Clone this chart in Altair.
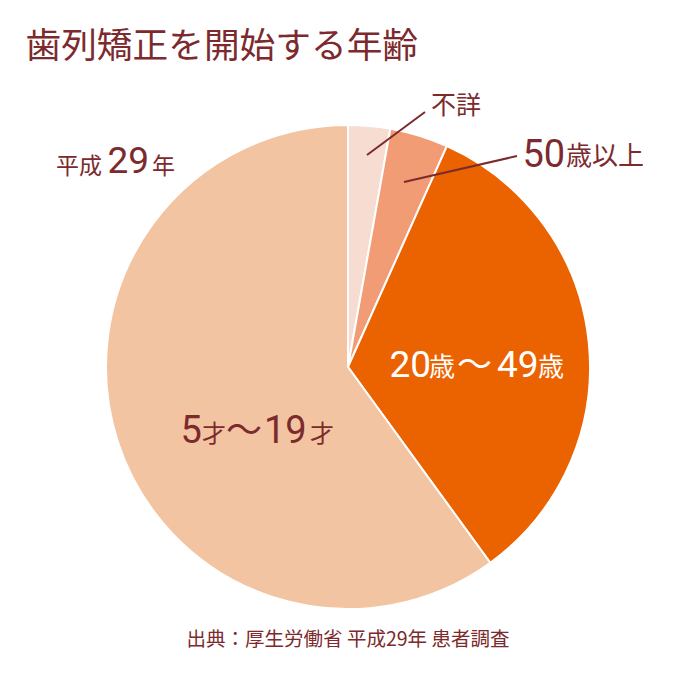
import altair as alt
import pandas as pd

# ---- data ----
categories = ["不詳", "50歳以上", "20歳〜49歳", "5才〜19才"]
values = [2.8, 3.9, 33.3, 60.0]
colors = ["#F7DCD1", "#F29C76", "#EB6200", "#F2C4A2"]

title_text = "歯列矯正を開始する年齢"
year_label = ["平成", "29", "年"]
source_text = "出典：厚生労働省 平成29年 患者調査"

TXT = "#7C2A2D"
FONT = "Noto Sans CJK JP"
DIG = "Roboto"
W, H = 684, 675
CX, CY, R = 340, 359, 242

pie_df = pd.DataFrame({"cat": categories, "value": values, "idx": list(range(len(categories)))})

pie = alt.Chart(pie_df).mark_arc(outerRadius=R, stroke="white", strokeWidth=2).encode(
    theta=alt.Theta("value:Q", stack=True),
    color=alt.Color("cat:N", scale=alt.Scale(domain=categories, range=colors), legend=None),
    order=alt.Order("idx:Q"),
    x=alt.value(CX),
    y=alt.value(CY),
)

# label pieces: (text, x, baseline y, font size, colour, font)
segs = [
    (title_text, 17.5, 50, 35.7, TXT, FONT),
    ("不詳", 423, 106, 25, TXT, FONT),
    ("50", 514.5, 159, 38, TXT, DIG),
    ("歳以上", 558, 157, 26, TXT, FONT),
    (year_label[0], 48, 165.5, 23, TXT, FONT),
    (year_label[1], 99.5, 165, 37, TXT, DIG),
    (year_label[2], 144, 165.5, 23, TXT, FONT),
    ("5", 172.5, 435, 38, TXT, DIG),
    ("才", 194, 433.5, 24, TXT, FONT),
    ("〜", 218, 435, 36, TXT, FONT),
    ("19", 256, 435, 38, TXT, DIG),
    ("才", 302, 433.5, 24, TXT, FONT),
    ("20", 381.5, 369, 37, "white", DIG),
    ("歳", 421, 367.5, 26, "white", FONT),
    ("〜", 449, 369, 35, "white", FONT),
    ("49", 489, 369, 37, "white", DIG),
    ("歳", 530, 367.5, 26, "white", FONT),
]
seg_df = pd.DataFrame(segs, columns=["t", "x", "y", "fs", "col", "font"])

layers = []
for fnt in [FONT, DIG]:
    sub = seg_df[seg_df["font"] == fnt]
    layers.append(
        alt.Chart(sub).mark_text(align="left", baseline="alphabetic", font=fnt).encode(
            x=alt.X("x:Q", scale=None),
            y=alt.Y("y:Q", scale=None),
            size=alt.Size("fs:Q", scale=None),
            color=alt.Color("col:N", scale=None),
            text="t:N",
        )
    )

src = alt.Chart(pd.DataFrame({"t": [source_text]})).mark_text(
    align="center", baseline="alphabetic", font=FONT, fontSize=19.5, color=TXT
).encode(x=alt.value(340), y=alt.value(638), text="t:N")

lines_df = pd.DataFrame({
    "x0": [359, 396], "y0": [147, 174],
    "x1": [417, 509], "y1": [104, 148],
})
leaders = alt.Chart(lines_df).mark_rule(color=TXT, strokeWidth=2).encode(
    x=alt.X("x0:Q", scale=None), y=alt.Y("y0:Q", scale=None),
    x2="x1:Q", y2="y1:Q",
)

chart = alt.layer(pie, leaders, *layers, src).properties(
    width=W, height=H, autosize=alt.AutoSizeParams(type="none"), padding=0,
    background="white",
).configure_view(stroke=None)

chart.save("out.html", embed_options={"renderer": "svg", "actions": False})
